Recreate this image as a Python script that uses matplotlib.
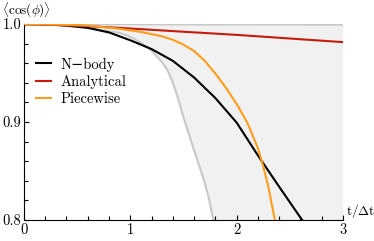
import matplotlib.pyplot as plt
import numpy as np

plt.rcParams['font.family'] = ['cmr10', 'DejaVu Serif']
plt.rcParams['mathtext.fontset'] = 'cm'
plt.rcParams['axes.formatter.use_mathtext'] = True
plt.rcParams['lines.solid_joinstyle'] = 'round'

# curves
t_nbody = [0, 0.2, 0.4, 0.6, 0.8, 1.0, 1.2, 1.4, 1.6, 1.8, 2.0, 2.2, 2.4, 2.6, 2.7]
c_nbody = [1.0, 0.9997, 0.9985, 0.9962, 0.9915, 0.9835, 0.9745, 0.9625, 0.9455,
           0.9245, 0.8995, 0.866, 0.834, 0.8025, 0.787]

t_anal = [0, 0.5, 1.0, 1.5, 2.0, 2.5, 3.0]
c_anal = [1.0, 0.9985, 0.9955, 0.9922, 0.989, 0.9853, 0.9816]

t_piece = [0, 0.3, 0.6, 0.9, 1.1, 1.3, 1.4, 1.5, 1.6, 1.7, 1.8, 1.9, 2.0, 2.1,
           2.2, 2.25, 2.3, 2.36, 2.4]
c_piece = [1.0, 0.9995, 0.9985, 0.9952, 0.992, 0.9875, 0.984, 0.979, 0.9725,
           0.9625, 0.9495, 0.935, 0.9185, 0.8995, 0.8735, 0.855, 0.833, 0.800, 0.776]

t_low = [0, 0.3, 0.6, 0.9, 1.0, 1.1, 1.2, 1.3, 1.35, 1.4, 1.45, 1.5, 1.56, 1.6,
         1.65, 1.7, 1.74, 1.78, 1.85]
c_low = [1.0, 0.9993, 0.996, 0.991, 0.987, 0.981, 0.973, 0.961, 0.953, 0.9405,
         0.924, 0.905, 0.885, 0.871, 0.855, 0.838, 0.822, 0.801, 0.780]

t_up = [0, 1.0, 2.0, 3.0]
c_up = [1.0, 0.9998, 0.9996, 0.9994]

fig = plt.figure(figsize=(3.74, 2.41), dpi=100)
ax = fig.add_axes([0.064, 0.087, 0.853, 0.813])

tg = np.linspace(0, 3, 400)
low = np.interp(tg, t_low, c_low, right=0.7)
up = np.interp(tg, t_up, c_up)
ax.fill_between(tg, low, up, color='#f1f1f1', lw=0, zorder=0)
ax.plot(t_up, c_up, color='#c8c8c8', lw=1.5, zorder=1)
ax.plot(t_low, c_low, color='#c8c8c8', lw=1.5, zorder=1)

ax.plot(t_nbody, c_nbody, color='black', lw=1.5, label='N\u2212body', zorder=3)
ax.plot(t_anal, c_anal, color='#c51b0b', lw=1.5, label='Analytical', zorder=3)
ax.plot(t_piece, c_piece, color='#ff9d1b', lw=1.5, label='Piecewise', zorder=3)

ax.set_xlim(0, 3)
ax.set_ylim(0.8, 1.0)
ax.set_xticks([0, 1, 2, 3])
ax.set_xticklabels(['0', '1', '2', '3'])
ax.set_xticks(np.arange(0, 3.01, 0.2), minor=True)
ax.set_yticks([0.8, 0.9, 1.0])
ax.set_yticklabels(['0.8', '0.9', '1.0'])
ax.set_yticks(np.arange(0.8, 1.001, 0.02), minor=True)
ax.tick_params(which='both', direction='in', labelsize=10.5, pad=2)
ax.tick_params(which='major', length=3.5, width=0.8)
ax.tick_params(which='minor', length=3, width=0.8)
for s in ['top', 'right']:
    ax.spines[s].set_visible(False)

ax.text(3.025, 0.8, r'$\mathrm{t/\Delta t}$', fontsize=9.5, ha='left', va='bottom')
fig.text(0.006, 0.918, r'$\langle\cos(\phi)\rangle$', fontsize=9.5, ha='left', va='bottom')

ax.legend(loc='upper left', bbox_to_anchor=(0.02, 0.86), frameon=False, fontsize=10.5,
          handlelength=1.0, handletextpad=0.7, labelspacing=0.22, borderaxespad=0)

fig.savefig('out.png', dpi=100)
